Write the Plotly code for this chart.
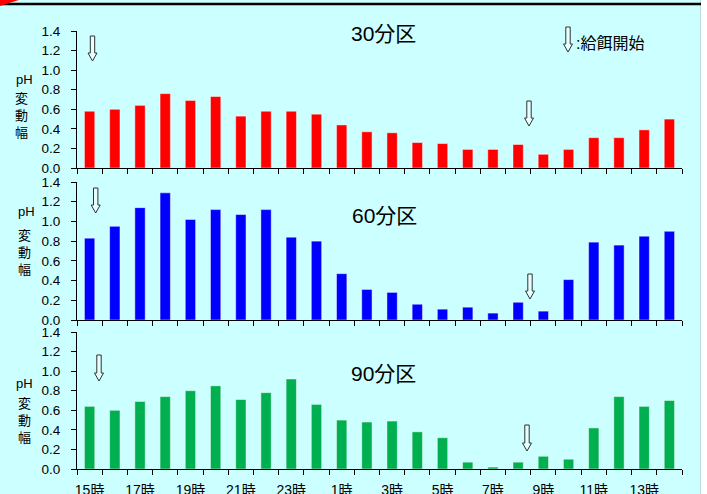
import plotly.graph_objects as go

hours = ["15時", "16時", "17時", "18時", "19時", "20時", "21時", "22時", "23時", "0時",
         "1時", "2時", "3時", "4時", "5時", "6時", "7時", "8時", "9時", "10時",
         "11時", "12時", "13時", "14時"]
vals30 = [0.58, 0.60, 0.64, 0.76, 0.69, 0.73, 0.53, 0.58, 0.58, 0.55, 0.44, 0.37,
          0.36, 0.26, 0.25, 0.19, 0.19, 0.24, 0.14, 0.19, 0.31, 0.31, 0.39, 0.50]
vals60 = [0.83, 0.95, 1.14, 1.29, 1.02, 1.12, 1.07, 1.12, 0.84, 0.80, 0.47, 0.31,
          0.28, 0.16, 0.11, 0.13, 0.07, 0.18, 0.09, 0.41, 0.79, 0.76, 0.85, 0.90]
vals90 = [0.64, 0.60, 0.69, 0.74, 0.80, 0.85, 0.71, 0.78, 0.92, 0.66, 0.50, 0.48,
          0.49, 0.38, 0.32, 0.07, 0.02, 0.07, 0.13, 0.10, 0.42, 0.74, 0.64, 0.70]
panel_titles = ["30分区", "60分区", "90分区"]
colors = ["#FF0000", "#0000FF", "#00B050"]

idx = list(range(len(hours)))

W, H = 707, 494
L, R, T, B = 77, 25, 31, 25
PW, PH = W - L - R, H - T - B


def fx(x):
    return (x - L) / PW


def fy(y):
    return (H - B - y) / PH


FONT = "Liberation Sans, Noto Sans CJK JP, sans-serif"

fig = go.Figure()
series = [vals30, vals60, vals90]
axn = ["", "2", "3"]
for i, vals in enumerate(series):
    fig.add_trace(go.Bar(
        x=idx, y=vals, marker=dict(color=colors[i], line=dict(color="rgba(255,255,255,0.45)", width=1)),
        xaxis="x" + axn[i], yaxis="y" + axn[i], showlegend=False, hoverinfo="skip"))

domains = [[fy(168), fy(31)], [fy(320), fy(182)], [0.0, fy(332)]]

layout = dict(
    width=W, height=H, autosize=False,
    margin=dict(l=L, r=R, t=T, b=B, autoexpand=False),
    paper_bgcolor="#CCFFFF", plot_bgcolor="rgba(0,0,0,0)",
    bargap=0.59,
    font=dict(family=FONT, size=14, color="#000000"),
)
for i in range(3):
    layout["xaxis" + axn[i]] = dict(
        type="linear", range=[-0.5, len(hours) - 0.5], domain=[0, 1],
        anchor="y" + axn[i], automargin=False,
        tickmode="array", tickvals=idx[::2], ticktext=hours[::2],
        ticks="", showticklabels=(i == 2), ticklabelstandoff=8,
        minor=dict(ticks="outside", tickmode="linear", tick0=-0.5, dtick=1, ticklen=5,
                   tickcolor="#000000", tickwidth=1),
        showline=True, linecolor="#000000", linewidth=1,
        showgrid=False, zeroline=False,
        tickfont=dict(family=FONT, size=14, color="#000000"),
    )
    layout["yaxis" + axn[i]] = dict(
        range=[0, 1.4], domain=domains[i], anchor="x" + axn[i], automargin=False,
        tickmode="linear", tick0=0, dtick=0.2, tickformat=".1f",
        ticks="outside", ticklen=5, tickcolor="#000000",
        showline=True, linecolor="#000000", linewidth=1,
        showgrid=False, zeroline=False, ticklabelstandoff=8,
        tickfont=dict(family=FONT, size=13.5, color="#000000"),
    )
fig.update_layout(**layout)

shapes = []
# white strip on the right and its border
shapes.append(dict(type="rect", xref="paper", yref="paper", x0=fx(701), x1=fx(W + 2),
                   y0=fy(H + 2), y1=fy(-2), fillcolor="#FFFFFF", line=dict(width=0), layer="below"))
shapes.append(dict(type="line", xref="paper", yref="paper", x0=fx(700.5), x1=fx(700.5),
                   y0=fy(H + 2), y1=fy(-2), line=dict(color="#B8DCDC", width=1)))
# top black rule
shapes.append(dict(type="line", xref="paper", yref="paper", x0=fx(0), x1=fx(701),
                   y0=fy(4), y1=fy(4), line=dict(color="#000000", width=2.5)))
# red corner wedge
shapes.append(dict(type="path", xref="paper", yref="paper",
                   path=f"M {fx(0)} {fy(-1)} L {fx(22)} {fy(-1)} L {fx(0)} {fy(6)} Z",
                   fillcolor="#FF0000", line=dict(width=0)))


def arrow(cx, top, bot):
    hw_s, hw_h, hh = 2.2, 4.5, 8
    pts = [(cx - hw_s, top), (cx + hw_s, top), (cx + hw_s, bot - hh), (cx + hw_h, bot - hh),
           (cx, bot), (cx - hw_h, bot - hh), (cx - hw_s, bot - hh)]
    p = "M " + " L ".join(f"{fx(a)} {fy(b)}" for a, b in pts) + " Z"
    return dict(type="path", xref="paper", yref="paper", path=p,
                fillcolor="rgba(255,255,255,0.5)", line=dict(color="#303030", width=1))


for cx, top, bot in [(92.5, 36, 61), (529, 101, 126), (568, 27, 52),
                     (95.7, 188, 213), (530, 274, 299),
                     (99, 355, 381), (527, 425, 451)]:
    shapes.append(arrow(cx, top, bot))

fig.update_layout(shapes=shapes)

ann = []
for t, (x, y) in zip(panel_titles, [(383, 33), (385, 215), (383, 373)]):
    ann.append(dict(text=t, x=fx(x), y=fy(y), xref="paper", yref="paper", showarrow=False,
                    xanchor="center", yanchor="middle", font=dict(size=21, family=FONT, color="#000000")))
ann.append(dict(text=":給餌開始", x=fx(574), y=fy(44), xref="paper", yref="paper", showarrow=False,
                xanchor="left", yanchor="middle", font=dict(size=16, family=FONT, color="#000000")))
for (x, y) in [(24, 80), (26, 212), (24, 383)]:
    ann.append(dict(text="pH", x=fx(x), y=fy(y), xref="paper", yref="paper", showarrow=False,
                    xanchor="center", yanchor="middle", font=dict(size=13, family=FONT, color="#000000")))
for x, y in [(21, 114), (24.5, 252), (24.5, 419)]:
    ann.append(dict(text="変<br>動<br>幅", x=fx(x), y=fy(y), xref="paper", yref="paper", showarrow=False,
                    xanchor="center", yanchor="middle",
                    font=dict(size=13, family="Noto Sans CJK JP", color="#000000")))
fig.update_layout(annotations=ann)

fig.write_html("out.html", config={"displayModeBar": False},
               post_script="document.body.style.margin='0px';document.body.style.padding='0px';")
